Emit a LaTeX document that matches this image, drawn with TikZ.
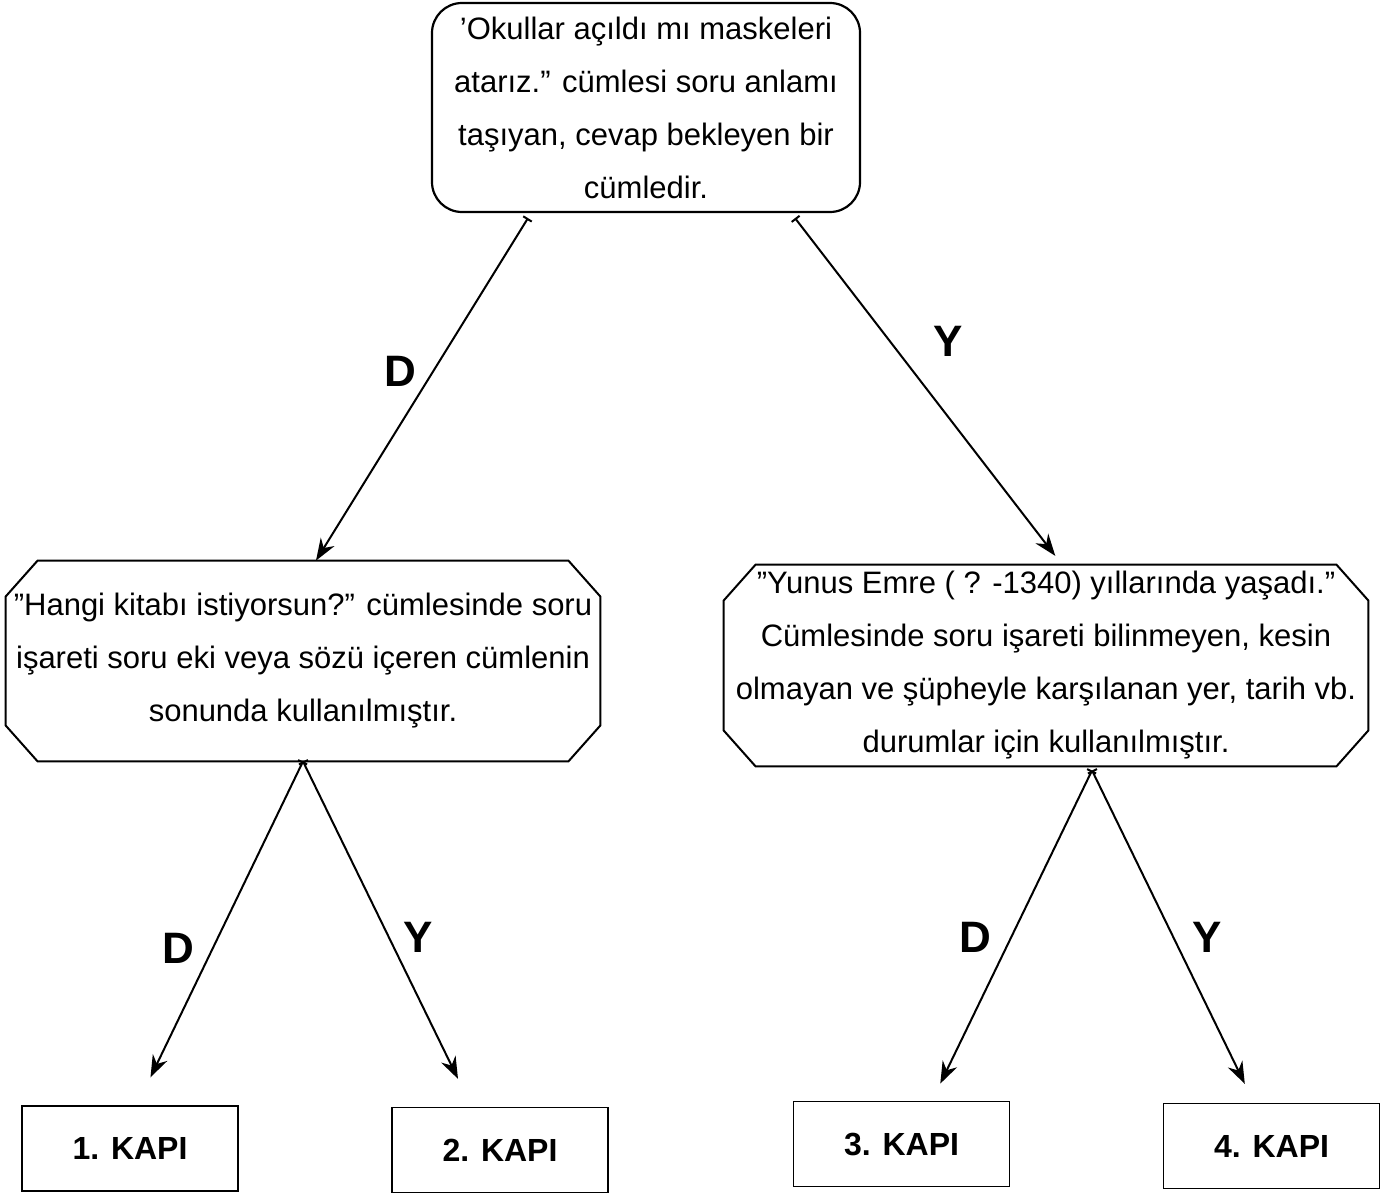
\documentclass[tikz,border=0pt]{standalone}
\usepackage{fontspec}
\setmainfont{Liberation Sans}
\usetikzlibrary{arrows.meta}
\usetikzlibrary{positioning}

\begin{document}
\begin{tikzpicture}[x=0.5pt,y=-0.5pt,
		soru/.style={align=center, inner sep=0pt,
			font=\fontsize{15.5}{26.5}\selectfont},
		kapi/.style={draw, line width=0.8pt, minimum width=108pt, minimum height=42.5pt,
			inner sep=0pt, font=\fontsize{16}{19}\selectfont\bfseries},
		cevap/.style={font=\fontsize{22}{26}\selectfont\bfseries},
		ok/.style={line width=1pt, {Bar[width=5pt]}-{Stealth[length=11pt,width=8pt]}}]
		\useasboundingbox (0,0) rectangle (1400,1193);

		%question boxes
		\node[soru, draw, line width=1.1pt, rounded corners=15pt, minimum width=214pt, minimum height=104.5pt] (ilk) at (646,107.5)
			{'Okullar açıldı mı maskeleri\\ atarız.'' cümlesi soru anlamı\\ taşıyan, cevap bekleyen bir\\ cümledir.};
		\node[soru, minimum width=297pt, minimum height=100pt] (sol) at (303,661)
			{''Hangi kitabı istiyorsun?'' cümlesinde soru\\ işareti soru eki veya sözü içeren cümlenin\\ sonunda kullanılmıştır.};
		\node[soru, minimum width=322pt, minimum height=100.5pt] (sag) at (1046,665.5)
			{''Yunus Emre ( ? -1340) yıllarında yaşadı.''\\ Cümlesinde soru işareti bilinmeyen, kesin\\ olmayan ve şüpheyle karşılanan yer, tarih vb.\\ durumlar için kullanılmıştır.};

		%cut corners
		\foreach \kutu in {sol,sag}
		\draw[line width=1pt] ([xshift=16pt]\kutu.north west) -- ([xshift=-16pt]\kutu.north east)
			-- ([yshift=-18pt]\kutu.north east) -- ([yshift=18pt]\kutu.south east)
			-- ([xshift=-16pt]\kutu.south east) -- ([xshift=16pt]\kutu.south west)
			-- ([yshift=18pt]\kutu.south west) -- ([yshift=-18pt]\kutu.north west) -- cycle;

		%doors
		\node[kapi] (kapi1) at (130,1148.5) {1. KAPI};
		\node[kapi] (kapi2) at (500,1150) {2. KAPI};
		\node[kapi] (kapi3) at (901.5,1144) {3. KAPI};
		\node[kapi] (kapi4) at (1271.5,1146) {4. KAPI};

		%arrows
		\draw[ok] ([xshift=-59pt,yshift=-2.5pt]ilk.south) -- ([xshift=6.5pt]sol.north);
		\draw[ok, shorten >=5.5pt] ([xshift=74.5pt,yshift=-2.5pt]ilk.south) -- ([xshift=8pt]sag.north);
		\draw[ok, shorten >=15.5pt] (sol.south) -- ([xshift=3.5pt]kapi1.north);
		\draw[ok, shorten >=15.5pt] (sol.south) -- ([xshift=-14.2pt]kapi2.north);
		\draw[ok, shorten >=9.5pt] ([xshift=23pt,yshift=-2pt]sag.south) -- ([xshift=15.25pt]kapi3.north);
		\draw[ok, shorten >=10.5pt] ([xshift=23pt,yshift=-2pt]sag.south) -- ([xshift=-8.75pt]kapi4.north);

		%D / Y labels
		\node[cevap] (d1) at (400,371) {D};
		\node[cevap] (y1) at (948,341) {Y};
		\node[cevap] (d2) at (178,948) {D};
		\node[cevap] (y2) at (418,937) {Y};
		\node[cevap] (d3) at (975,937) {D};
		\node[cevap] (y3) at (1207,937) {Y};
\end{tikzpicture}
\end{document}
